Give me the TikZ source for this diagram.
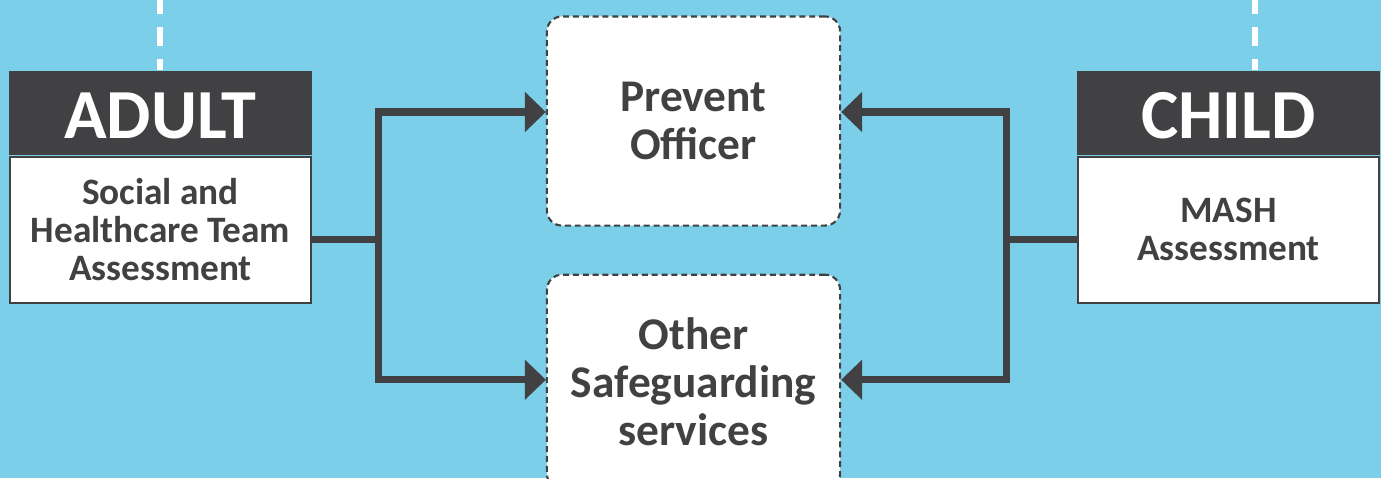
\documentclass[tikz,border=0pt]{standalone}
\usepackage{fontspec}
\setmainfont{Carlito}
\usetikzlibrary{positioning,arrows.meta}
\definecolor{sky}{HTML}{7BCFE8}
\definecolor{ink}{HTML}{414042}
\tikzset{
  head/.style={fill=ink,text=white,minimum width=3.03cm,minimum height=0.84cm,inner sep=0pt,
    text height=14.6pt,text depth=0pt,font=\bfseries\fontsize{20}{20}\selectfont},
  body/.style={fill=white,draw=ink,line width=0.6pt,minimum width=3.01cm,minimum height=1.46cm,
    inner sep=0pt,align=center,text=ink,font=\bfseries\fontsize{10.6}{10.8}\selectfont},
  service/.style={fill=white,draw=ink,line width=0.6pt,dash pattern=on 1.7pt off 1.1pt,
    rounded corners=0.15cm,minimum width=2.93cm,minimum height=2.09cm,inner sep=0pt,
    align=center,text=ink,font=\bfseries\fontsize{12.9}{13.7}\selectfont},
  link/.style={draw=ink,line width=2pt},
  arrowlink/.style={link,-{Triangle[length=0.21cm,width=0.39cm]}},
  guide/.style={draw=white,line width=1.7pt,dash pattern=on 0.19cm off 0.13cm}
}
\begin{document}
\begin{tikzpicture}[x=0.01cm,y=-0.01cm]
  \clip (0,0) rectangle (1381,478);
  \fill[sky] (0,0) rectangle (1381,478);
  \coordinate (atop) at (160,-5);
  \coordinate (ctop) at (1255,-5);

  \node[head] (adulthead) at (160.5,113) {ADULT};
  \node[body, below=0pt of adulthead] (adultbody) {Social and\\Healthcare Team\\Assessment};
  \node[head] (childhead) at (1228.5,113) {CHILD};
  \node[body, below=0pt of childhead] (childbody) {MASH\\Assessment};
  \node[service] (prevent) at (693.5,121) {Prevent\\Officer};
  \node[service, below=0.47cm of prevent, minimum height=2.14cm] (other) {Other\\Safeguarding\\services};

  \draw[guide] (atop) -- (atop |- adulthead.north);
  \draw[guide] (ctop) -- (ctop |- childhead.north);

  \draw[link] ([yshift=-0.1cm]adultbody.east) -- ++(0.66cm,0) coordinate (lfork);
  \draw[arrowlink] (lfork) |- ([yshift=0.09cm]prevent.west);
  \draw[arrowlink] (lfork) |- ([yshift=0.02cm]other.west);

  \draw[link] ([yshift=-0.1cm]childbody.west) -- ++(-0.7cm,0) coordinate (rfork);
  \draw[arrowlink] (rfork) |- ([yshift=0.09cm]prevent.east);
  \draw[arrowlink] (rfork) |- ([yshift=0.02cm]other.east);
\end{tikzpicture}
\end{document}
